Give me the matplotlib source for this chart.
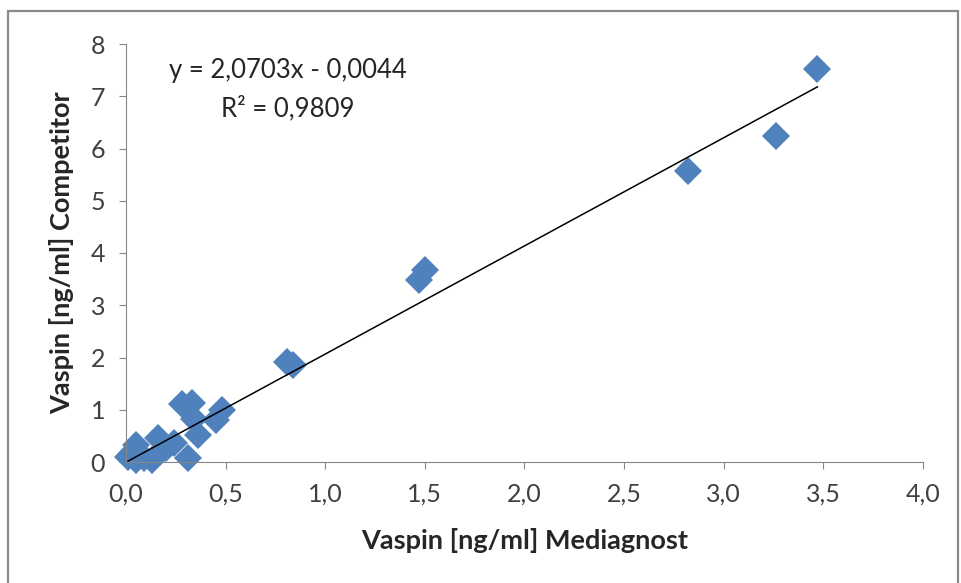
import matplotlib
matplotlib.use('Agg')
from matplotlib import pyplot as plt
from matplotlib.patches import Rectangle

# Vaspin measurements (ng/ml)
mediagnost = [3.47, 3.26, 2.82, 1.50, 1.47, 0.81, 0.84,
              0.28, 0.33, 0.48, 0.45, 0.34, 0.36, 0.31, 0.24, 0.16,
              0.20, 0.05, 0.01, 0.09, 0.13, 0.05, 0.03]
competitor = [7.52, 6.24, 5.57, 3.68, 3.49, 1.92, 1.86,
              1.11, 1.13, 0.99, 0.80, 0.83, 0.52, 0.08, 0.36, 0.45,
              0.26, 0.32, 0.10, 0.07, 0.04, 0.04, 0.18]

slope = 2.0703
intercept = -0.0044
r2 = 0.9809

x_ticks = [0, 0.5, 1.0, 1.5, 2.0, 2.5, 3.0, 3.5, 4.0]
y_ticks = [0, 1, 2, 3, 4, 5, 6, 7, 8]

plt.rcParams['font.family'] = ['Lato', 'DejaVu Sans']

fig = plt.figure(dpi=100, figsize=(9.62, 5.83))
ax = fig.add_axes([126 / 962, 1 - 462 / 583, (923 - 126) / 962, (462 - 44) / 583])

# outer chart frame
fig.patches.append(Rectangle((8 / 962, -0.05), (958 - 8) / 962, (583 + 30 - 12) / 583,
                             transform=fig.transFigure, fill=False,
                             edgecolor='#8a8a8a', linewidth=1.6))

ax.plot(mediagnost, competitor, linestyle='none', marker='D', markersize=14,
        color='#4F81BD', markeredgewidth=0, zorder=2, clip_on=False)

x0, x1 = min(mediagnost), max(mediagnost)
ax.plot([x0, x1], [slope * x0 + intercept, slope * x1 + intercept],
        color='black', linewidth=1.1, zorder=3)

eq = 'y = %sx - %s' % (('%.4f' % slope).replace('.', ','), ('%.4f' % abs(intercept)).replace('.', ','))
ax.text(0.81, 7.5, eq, fontsize=18.5, ha='center', va='center', color='#262626')
ax.text(0.81, 6.77, 'R² = ' + ('%.4f' % r2).replace('.', ','), fontsize=18.5,
        ha='center', va='center', color='#262626')

ax.set_xlim(0, 4.0)
ax.set_ylim(0, 8)
ax.set_xticks(x_ticks)
ax.set_xticklabels([('%.1f' % t).replace('.', ',') for t in x_ticks])
ax.set_yticks(y_ticks)

ax.spines['top'].set_visible(False)
ax.spines['right'].set_visible(False)
ax.spines['left'].set_color('#868686')
ax.spines['bottom'].set_color('#868686')
ax.tick_params(axis='both', direction='out', length=5, color='#868686',
               labelsize=18, labelcolor='#404040')
ax.tick_params(axis='x', pad=10)
ax.tick_params(axis='y', pad=10)

ax.set_xlabel('Vaspin [ng/ml] Mediagnost', fontsize=19.5, fontweight='bold',
              color='#262626', labelpad=16)
ax.set_ylabel('Vaspin [ng/ml] Competitor', fontsize=19.5, fontweight='bold',
              color='#262626', labelpad=12)

fig.savefig('out.png', dpi=100)
